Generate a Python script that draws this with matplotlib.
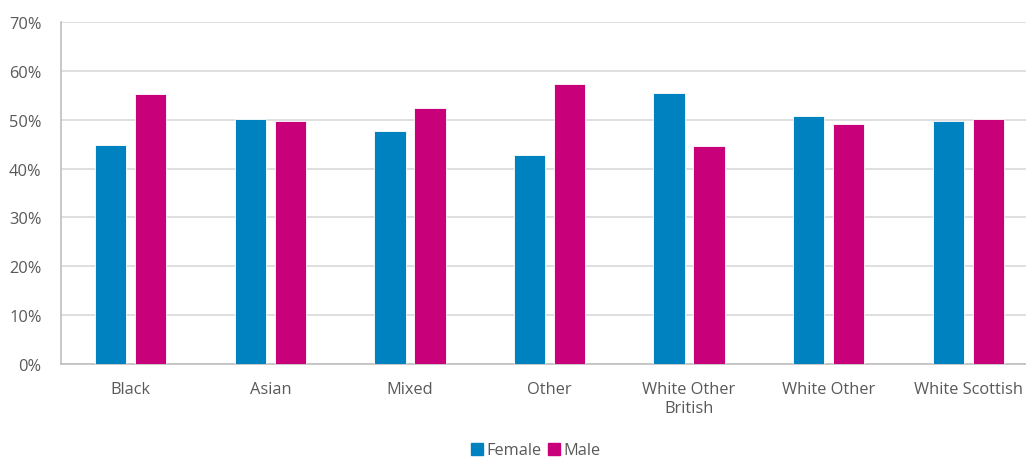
import matplotlib
matplotlib.use("Agg")
import matplotlib.pyplot as plt
import numpy as np
from matplotlib.ticker import FuncFormatter
from matplotlib.patches import Patch

categories = ["Black", "Asian", "Mixed", "Other", "White Other\nBritish", "White Other", "White Scottish"]
female = [44.8, 50.2, 47.6, 42.7, 55.4, 50.8, 49.8]
male = [55.2, 49.8, 52.4, 57.3, 44.6, 49.2, 50.2]
yticks = [0, 10, 20, 30, 40, 50, 60, 70]

blue = "#0082C0"
magenta = "#C8007A"
text_col = "#595959"

plt.rcParams['font.family'] = ['Open Sans', 'DejaVu Sans']

fig = plt.figure(figsize=(10.26, 4.64), dpi=100)
ax = fig.add_axes([61/1026, (464-365)/464, 977/1026, (365-23)/464])

x = np.arange(len(categories))
w = 0.224
off = 0.143
ax.bar(x - off, female, w, color=blue, edgecolor="white", linewidth=0.6, label="Female", zorder=3)
ax.bar(x + off, male, w, color=magenta, edgecolor="white", linewidth=0.6, label="Male", zorder=3)

ax.set_xlim(-0.5, len(categories) - 0.5)
ax.set_ylim(0, 70)
ax.set_yticks(yticks)
ax.yaxis.set_major_formatter(FuncFormatter(lambda v, p: f"{int(v)}%"))
ax.set_xticks(x)
ax.set_xticklabels(categories, linespacing=1.3)
ax.grid(axis="y", color="#D9D9D9", linewidth=1.2, zorder=0)
for s in ["top", "right"]:
    ax.spines[s].set_visible(False)
for s in ["left", "bottom"]:
    ax.spines[s].set_color("#BFBFBF")
    ax.spines[s].set_linewidth(1.2)
ax.tick_params(axis="both", length=0, labelsize=11.8, colors=text_col)
ax.tick_params(axis="x", pad=12)
ax.tick_params(axis="y", pad=14)

handles = [Patch(color=blue, label="Female"), Patch(color=magenta, label="Male")]
fig.legend(handles=handles, loc="lower center", bbox_to_anchor=(0.522, -0.022), ncol=2,
           frameon=False, handlelength=0.75, handleheight=0.75, handletextpad=0.2,
           columnspacing=0.4, fontsize=11.8, labelcolor=text_col)

fig.savefig("out.png", dpi=100)
